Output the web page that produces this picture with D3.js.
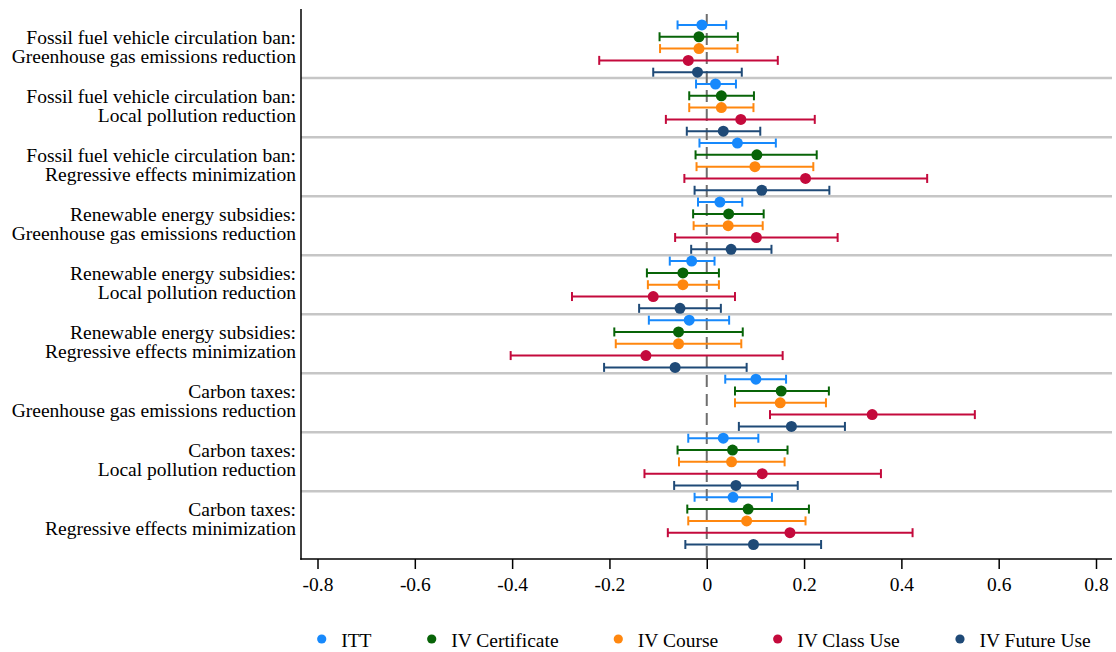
<!DOCTYPE html>
<html>
<head>
<meta charset="utf-8">
<script src="https://cdn.jsdelivr.net/npm/d3@7"></script>
<style>
  html, body { margin: 0; padding: 0; background: #fff; }
  svg { display: block; }
</style>
</head>
<body>
<svg id="chart" width="1116" height="652"></svg>
<script>
// ---- Data ----
const groupLine1 = [
  "Fossil fuel vehicle circulation ban:",
  "Fossil fuel vehicle circulation ban:",
  "Fossil fuel vehicle circulation ban:",
  "Renewable energy subsidies:",
  "Renewable energy subsidies:",
  "Renewable energy subsidies:",
  "Carbon taxes:",
  "Carbon taxes:",
  "Carbon taxes:"
];
const groupLine2 = [
  "Greenhouse gas emissions reduction",
  "Local pollution reduction",
  "Regressive effects minimization",
  "Greenhouse gas emissions reduction",
  "Local pollution reduction",
  "Regressive effects minimization",
  "Greenhouse gas emissions reduction",
  "Local pollution reduction",
  "Regressive effects minimization"
];
const seriesNames = ["ITT", "IV Certificate", "IV Course", "IV Class Use", "IV Future Use"];
const seriesColors = ["#1789fc", "#086408", "#ff870f", "#c40a3c", "#1f4a77"];

// point estimates per group for each series
const estITT       = [-0.010, 0.018, 0.063, 0.027, -0.031, -0.036, 0.101, 0.034, 0.054];
const estCert      = [-0.016, 0.030, 0.103, 0.045, -0.049, -0.058, 0.153, 0.053, 0.085];
const estCourse    = [-0.016, 0.030, 0.099, 0.044, -0.049, -0.058, 0.151, 0.051, 0.082];
const estClass     = [-0.038, 0.070, 0.203, 0.102, -0.110, -0.125, 0.340, 0.114, 0.171];
const estFuture    = [-0.019, 0.034, 0.113, 0.050, -0.055, -0.065, 0.174, 0.060, 0.096];

// confidence interval bounds
const loITT        = [-0.060, -0.022, -0.015, -0.018, -0.076, -0.119, 0.038, -0.038, -0.025];
const hiITT        = [ 0.040,  0.060,  0.142,  0.073,  0.016,  0.046, 0.163,  0.106,  0.134];
const loCert       = [-0.097, -0.036, -0.023, -0.028, -0.123, -0.190, 0.058, -0.060, -0.040];
const hiCert       = [ 0.064,  0.097,  0.226,  0.117,  0.025,  0.074, 0.251,  0.166,  0.210];
const loCourse     = [-0.096, -0.036, -0.021, -0.027, -0.121, -0.187, 0.058, -0.057, -0.038];
const hiCourse     = [ 0.063,  0.096,  0.219,  0.115,  0.025,  0.071, 0.245,  0.160,  0.203];
const loClass      = [-0.221, -0.084, -0.046, -0.065, -0.277, -0.403, 0.130, -0.128, -0.080];
const hiClass      = [ 0.146,  0.222,  0.453,  0.269,  0.058,  0.156, 0.551,  0.358,  0.423];
const loFuture     = [-0.110, -0.041, -0.025, -0.032, -0.139, -0.211, 0.066, -0.067, -0.044];
const hiFuture     = [ 0.072,  0.110,  0.252,  0.133,  0.029,  0.082, 0.284,  0.187,  0.235];

const xTicks = [-0.8, -0.6, -0.4, -0.2, 0, 0.2, 0.4, 0.6, 0.8];
const xTickLabels = ["-0.8", "-0.6", "-0.4", "-0.2", "0", "0.2", "0.4", "0.6", "0.8"];

// ---- Build records ----
const ests = [estITT, estCert, estCourse, estClass, estFuture];
const los = [loITT, loCert, loCourse, loClass, loFuture];
const his = [hiITT, hiCert, hiCourse, hiClass, hiFuture];
const groupIdx = d3.range(groupLine1.length);
const records = [];
groupIdx.forEach(g => {
  seriesNames.forEach((s, k) => {
    records.push({ g, s, k, est: ests[k][g], lo: los[k][g], hi: his[k][g] });
  });
});

// ---- Layout ----
const FONT = "'Liberation Serif', 'Times New Roman', Times, serif";
const svg = d3.select("#chart").attr("font-family", FONT);
const plotLeft = 301, plotRight = 1112, plotTop = 9, plotBottom = 559;
const fontSize = 19.5;

const x = d3.scaleLinear().domain([-0.8, 0.8]).range([317.5, 1096]);
const yGroup = d3.scaleBand().domain(groupIdx).range([19.05, 550.4]).padding(0);
const ySeries = d3.scaleBand().domain(seriesNames).range([0, yGroup.bandwidth()]).padding(0);
const yOf = d => yGroup(d.g) + ySeries(d.s) + ySeries.bandwidth() / 2;
const color = d3.scaleOrdinal().domain(seriesNames).range(seriesColors);

// separators
svg.append("g").selectAll("line")
  .data(groupIdx.slice(1))
  .join("line")
  .attr("x1", plotLeft).attr("x2", plotRight)
  .attr("y1", g => yGroup(g)).attr("y2", g => yGroup(g))
  .attr("stroke", "#c6c6c6").attr("stroke-width", 2.5);

// zero line
svg.append("line")
  .attr("x1", x(0)).attr("x2", x(0))
  .attr("y1", 14).attr("y2", plotBottom)
  .attr("stroke", "#6e6e6e").attr("stroke-width", 2)
  .attr("stroke-dasharray", "12,7");

// error bars
const eb = svg.append("g").selectAll("g").data(records).join("g")
  .attr("stroke", d => color(d.s)).attr("stroke-width", 2);
eb.append("line")
  .attr("x1", d => x(d.lo)).attr("x2", d => x(d.hi))
  .attr("y1", yOf).attr("y2", yOf);
eb.append("line")
  .attr("x1", d => x(d.lo)).attr("x2", d => x(d.lo))
  .attr("y1", d => yOf(d) - 4.5).attr("y2", d => yOf(d) + 4.5);
eb.append("line")
  .attr("x1", d => x(d.hi)).attr("x2", d => x(d.hi))
  .attr("y1", d => yOf(d) - 4.5).attr("y2", d => yOf(d) + 4.5);

// points
svg.append("g").selectAll("circle").data(records).join("circle")
  .attr("cx", d => x(d.est)).attr("cy", yOf).attr("r", 5.5)
  .attr("fill", d => color(d.s));

// axes lines
svg.append("line")
  .attr("x1", plotLeft).attr("x2", plotLeft)
  .attr("y1", plotTop).attr("y2", plotBottom + 0.75)
  .attr("stroke", "#000").attr("stroke-width", 1.5);
svg.append("line")
  .attr("x1", plotLeft - 0.75).attr("x2", plotRight)
  .attr("y1", plotBottom).attr("y2", plotBottom)
  .attr("stroke", "#000").attr("stroke-width", 1.5);

// x axis ticks
const xAxis = d3.axisBottom(x).tickValues(xTicks)
  .tickSize(10).tickPadding(8)
  .tickFormat((d, i) => xTickLabels[i]);
const gx = svg.append("g").attr("transform", `translate(0,${plotBottom})`).call(xAxis)
  .attr("font-family", FONT).attr("font-size", fontSize);
gx.select(".domain").remove();
gx.selectAll(".tick line").attr("stroke", "#000").attr("stroke-width", 1.5);
gx.selectAll(".tick text")
  .attr("font-family", FONT)
  .attr("font-size", fontSize).attr("fill", "#000");

// y labels
const yl = svg.append("g").attr("font-size", fontSize).attr("fill", "#000")
  .attr("font-family", FONT).attr("text-anchor", "end");
yl.selectAll("text.l1").data(groupIdx).join("text").attr("class", "l1")
  .attr("x", 296).attr("y", g => yGroup(g) + yGroup.bandwidth() / 2 - 5)
  .text(g => groupLine1[g]);
yl.selectAll("text.l2").data(groupIdx).join("text").attr("class", "l2")
  .attr("x", 296).attr("y", g => yGroup(g) + yGroup.bandwidth() / 2 + 14.6)
  .text(g => groupLine2[g]);

// legend
const legendX = [321.7, 431.7, 618.3, 777.7, 960];
const lg = svg.append("g").selectAll("g").data(seriesNames).join("g")
  .attr("transform", (d, i) => `translate(${legendX[i]},639)`);
lg.append("circle").attr("r", 4.6).attr("fill", d => color(d));
lg.append("text").attr("x", 19.5).attr("y", 7.8)
  .attr("font-family", FONT)
  .attr("font-size", fontSize).attr("fill", "#000").text(d => d);
</script>
</body>
</html>
